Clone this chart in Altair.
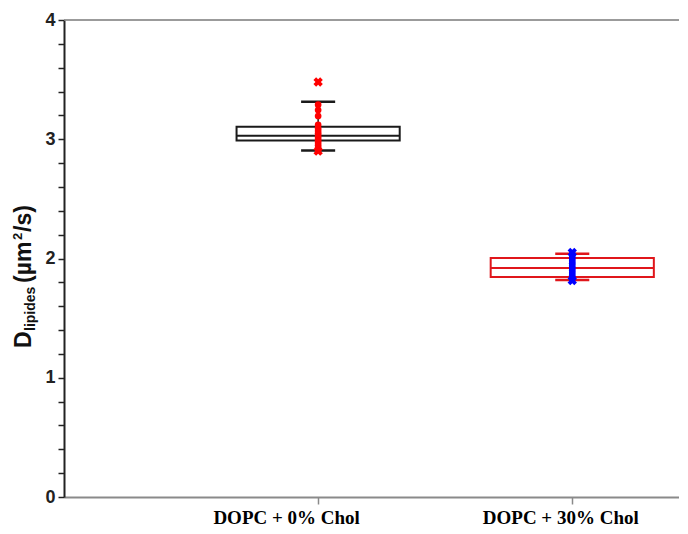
import json
import altair as alt
import pandas as pd

# ---- data ----
categories = ["DOPC + 0% Chol", "DOPC + 30% Chol"]
positions = [1, 2]
q1 = [2.99, 1.845]
medians = [3.03, 1.92]
q3 = [3.105, 2.005]
whisker_low = [2.905, 1.82]
whisker_high = [3.315, 2.04]
box_colors = ["#1a1a1a", "#e0161b"]
point_colors = ["#ff0000", "#0000ff"]

points_0 = [3.29, 3.245, 3.195, 3.12, 3.09, 3.07, 3.05, 3.03, 3.01, 2.99, 2.97, 2.95, 2.93, 2.91]
points_30 = [2.04, 2.02, 2.00, 1.98, 1.96, 1.94, 1.92, 1.90, 1.88, 1.86, 1.84, 1.83]
extremes_0 = [3.48, 2.90]
extremes_30 = [2.05, 1.815]

y_ticks = [0.0, 0.2, 0.4, 0.6, 0.8, 1.0, 1.2, 1.4, 1.6, 1.8, 2.0, 2.2, 2.4, 2.6, 2.8,
           3.0, 3.2, 3.4, 3.6, 3.8, 4.0]

# ---- tables ----
box_df = pd.DataFrame({
    "cat": categories, "pos": positions, "q1": q1, "med": medians, "q3": q3,
    "lo": whisker_low, "hi": whisker_high, "color": box_colors,
})
pts_df = pd.DataFrame(
    [{"pos": positions[0], "v": v, "color": point_colors[0]} for v in points_0]
    + [{"pos": positions[1], "v": v, "color": point_colors[1]} for v in points_30]
)
ext_df = pd.DataFrame(
    [{"pos": positions[0], "v": v, "color": point_colors[0]} for v in extremes_0]
    + [{"pos": positions[1], "v": v, "color": point_colors[1]} for v in extremes_30]
)

W, H = 615, 477
BOX_HALF = 0.321
CAP_HALF = 0.067

x_scale = alt.Scale(domain=[0, 2.42], nice=False, zero=False)
y_scale = alt.Scale(domain=[0, 4], nice=False, zero=True)

x_axis = alt.Axis(
    values=positions,
    labelExpr=json.dumps(categories) + "[round(datum.value) - 1]",
    title=None, grid=False,
    domainColor="#8a8a8a", domainWidth=2,
    tickColor="#8a8a8a", tickWidth=1.5, tickSize=7,
    labelFont="Liberation Serif", labelFontWeight="bold", labelFontSize=19,
    labelColor="#000000", labelPadding=4,
    labelOffset={"condition": {"test": "datum.value == 1", "value": -32}, "value": -12},
)
y_axis = alt.Axis(
    values=y_ticks,
    labelExpr="round(datum.value * 5) % 5 == 0 ? format(datum.value, 'd') : ''",
    title=None, grid=False,
    domainColor="#222222", domainWidth=2,
    tickColor="#222222", tickWidth=1.5, tickSize=6,
    labelFont="Liberation Sans", labelFontWeight="bold", labelFontSize=18,
    labelColor="#222222", labelPadding=3,
)

def X(field):
    return alt.X(field, type="quantitative", scale=x_scale, axis=x_axis)

def Y(field):
    return alt.Y(field, type="quantitative", scale=y_scale, axis=y_axis)

base = alt.Chart(box_df).transform_calculate(
    xl=f"datum.pos - {BOX_HALF}", xr=f"datum.pos + {BOX_HALF}",
    cl=f"datum.pos - {CAP_HALF}", cr=f"datum.pos + {CAP_HALF}",
)

boxes = base.mark_rect(fill="white", fillOpacity=0, strokeWidth=2).encode(
    x=X("xl"), x2="xr", y=Y("q1"), y2="q3",
    stroke=alt.Color("color:N", scale=None),
)
median = base.mark_rule(strokeWidth=2).encode(
    x=X("xl"), x2="xr", y=Y("med"), color=alt.Color("color:N", scale=None),
)
whisk_up = base.mark_rule(strokeWidth=1.5).encode(
    x=X("pos"), y=Y("q3"), y2="hi", color=alt.Color("color:N", scale=None),
)
whisk_dn = base.mark_rule(strokeWidth=1.5).encode(
    x=X("pos"), y=Y("lo"), y2="q1", color=alt.Color("color:N", scale=None),
)
cap_up = base.mark_rule(strokeWidth=2.5).encode(
    x=X("cl"), x2="cr", y=Y("hi"), color=alt.Color("color:N", scale=None),
)
cap_dn = base.mark_rule(strokeWidth=2.5).encode(
    x=X("cl"), x2="cr", y=Y("lo"), color=alt.Color("color:N", scale=None),
)

points = alt.Chart(pts_df).mark_circle(size=45, opacity=1).encode(
    x=X("pos"), y=Y("v"), color=alt.Color("color:N", scale=None),
)
extremes = alt.Chart(ext_df).mark_point(
    shape="cross", angle=45, filled=True, size=90, opacity=1
).encode(
    x=X("pos"), y=Y("v"), color=alt.Color("color:N", scale=None),
)

one = pd.DataFrame({"a": [0]})
top_frame = alt.Chart(one).mark_rule(color="#7a7a7a", strokeWidth=1.5).encode(
    x=alt.value(0), x2=alt.value(W), y=alt.value(0),
)

title_common = dict(angle=270, align="left", baseline="alphabetic",
                    font="Liberation Sans", fontWeight="bold", color="#111111")
t_d = alt.Chart(one).mark_text(text="D", fontSize=23, **title_common).encode(
    x=alt.value(-33), y=alt.value(328))
t_sub = alt.Chart(one).mark_text(text="lipides", fontSize=14, **title_common).encode(
    x=alt.value(-29), y=alt.value(311))
t_unit1 = alt.Chart(one).mark_text(text="(µm", fontSize=23, **title_common).encode(
    x=alt.value(-33), y=alt.value(263))
t_sup = alt.Chart(one).mark_text(text="2", fontSize=13, **title_common).encode(
    x=alt.value(-42), y=alt.value(220))
t_unit2 = alt.Chart(one).mark_text(text="/s)", fontSize=23, **title_common).encode(
    x=alt.value(-33), y=alt.value(212))

chart = alt.layer(
    top_frame, boxes, median, whisk_up, whisk_dn, cap_up, cap_dn, points, extremes,
    t_d, t_sub, t_unit1, t_sup, t_unit2,
).properties(
    width=W, height=H,
    autosize=alt.AutoSizeParams(type="none"),
    padding={"left": 56, "top": 12, "right": 0, "bottom": 36},
    background="white",
).configure_view(stroke=None)

chart.save("out.html", embed_options={"renderer": "svg", "actions": False})
